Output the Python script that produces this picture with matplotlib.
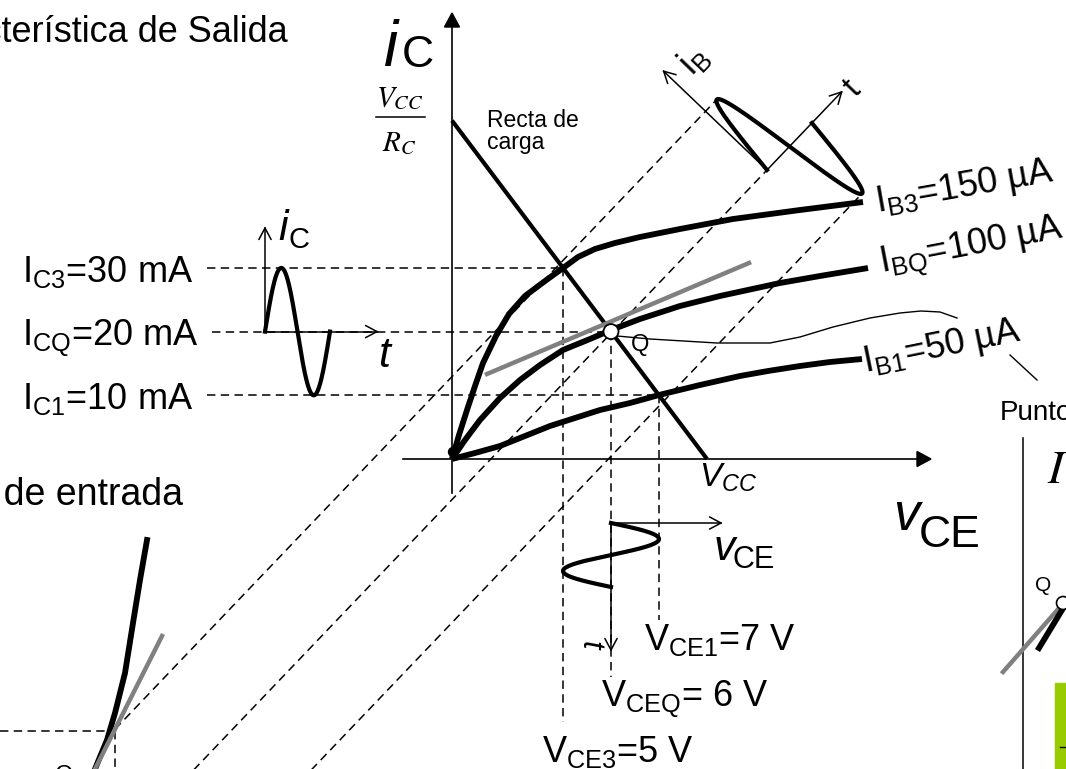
import matplotlib
import numpy as np

matplotlib.use("Agg")

import matplotlib.pyplot as plt
from matplotlib.patches import Circle, Polygon, Rectangle

plt.rcParams["font.family"] = ["Liberation Sans", "DejaVu Sans"]
plt.rcParams["mathtext.fontset"] = "custom"
plt.rcParams["mathtext.rm"] = "Liberation Sans"
plt.rcParams["mathtext.it"] = "Liberation Sans:italic"
plt.rcParams["mathtext.bf"] = "Liberation Sans:bold"

W, H = 1066, 769

# operating point values (output characteristic)
ic_names = ["C3", "CQ", "C1"]
ic_values = [30, 20, 10]            # mA
vce_names = ["CE3", "CEQ", "CE1"]
vce_values = [5, 6, 7]              # V
vce_texts = ["=5 V", "= 6 V", "=7 V"]
ib_names = ["B3", "BQ", "B1"]
ib_values = [150, 100, 50]          # uA
vcc = 8                              # V
rc_ma_per_v = 10                     # VCC/RC slope, mA per V

# sketched base-current curves, canvas pixels (x, y)
ib3_curve = [(452, 459), (459, 435), (467, 410), (475, 386), (483, 363), (496, 336),
             (509, 314), (525, 296), (545, 281), (563, 268), (578, 257), (595, 249),
             (615, 243), (640, 237), (680, 229), (733, 219), (800, 210), (863, 202)]
ibq_curve = [(452, 459), (465, 440), (480, 420), (500, 398), (520, 380), (540, 365),
             (563, 350), (590, 339), (611, 330), (640, 319), (680, 306), (720, 296),
             (780, 283), (820, 276), (868, 268)]
ib1_curve = [(452, 459), (475, 453), (500, 446), (525, 436), (550, 426), (575, 418),
             (600, 410), (630, 403), (659, 395), (700, 385), (740, 376), (768, 371),
             (800, 366), (830, 362), (862, 359)]
tangent_q = [(487, 374), (749, 263)]
callout_q = [(617, 336), (650, 339), (717, 343), (770, 343), (800, 337), (833, 327),
             (870, 318), (900, 313), (921, 311), (940, 312), (957, 318)]

# input characteristic sketch
input_curve = [(147, 540), (140, 580), (133, 623), (125, 673), (115, 713), (107, 740), (95, 769)]
input_tangent = [(162, 636), (95, 769)]
input_q = (115, 731)

# right-hand inset fragments
inset_gray = [(1003, 672), (1060, 607)]
inset_black = [(1039, 648), (1062, 610)]


def ic_y(ic):
    return 459 - 6.37 * np.asarray(ic, dtype=float)


def vce_x(v):
    return 611 + 48 * (np.asarray(v, dtype=float) - 6)


def xy(points):
    arr = np.asarray(points, dtype=float)
    return arr[:, 0], arr[:, 1]


def open_head(ax, tip, direction, size=13, spread=28, lw=1.1):
    d = np.asarray(direction, dtype=float)
    d = d / np.hypot(*d)
    for sign in (1, -1):
        a = np.deg2rad(sign * spread)
        rot = np.array([[np.cos(a), -np.sin(a)], [np.sin(a), np.cos(a)]])
        back = rot @ (-d) * size
        ax.plot([tip[0], tip[0] + back[0]], [tip[1], tip[1] + back[1]], color="black", lw=lw,
                solid_capstyle="round")


def filled_head(ax, tip, direction, length=14, half=7.5):
    d = np.asarray(direction, dtype=float)
    d = d / np.hypot(*d)
    n = np.array([-d[1], d[0]])
    base = np.asarray(tip) - d * length
    ax.add_patch(Polygon([tip, base + n * half, base - n * half], closed=True, color="black", zorder=6))


fig = plt.figure(figsize=(W / 100, H / 100), dpi=100)
ax = fig.add_axes([0, 0, 1, 1])
ax.set_xlim(0, W)
ax.set_ylim(H, 0)
ax.axis("off")

dash = dict(color="black", lw=1.1, dashes=(5.5, 3.5), zorder=1)

# projection lines and rotated base-current waveform
theta = np.deg2rad(46.3)
ut = np.array([np.cos(theta), -np.sin(theta)])
ub = np.array([-np.sin(theta), -np.cos(theta)])
o_rot = np.array([767.0, 170.0])
period = 65.0
ub_px = 1.7  # pixels per uA of base current swing
ib_q = ib_values[1]

s = np.linspace(0, period, 200)
ib_wave = ib_q + (ib_values[0] - ib_q) * np.sin(2 * np.pi * s / period)
wave = o_rot + np.outer(s, ut) + np.outer((ib_wave - ib_q) * ub_px, ub)
ax.plot(wave[:, 0], wave[:, 1], color="black", lw=3.0, zorder=4)

# rotated axes
tip_b = o_rot + 143 * ub
tip_t = o_rot + 108 * ut
ax.plot([o_rot[0], tip_b[0]], [o_rot[1], tip_b[1]], color="black", lw=1.1)
ax.plot([o_rot[0], tip_t[0]], [o_rot[1], tip_t[1]], color="black", lw=1.1)
open_head(ax, tip_b, ub)
open_head(ax, tip_t, ut)
ax.text(694, 60, "i$_{\\mathrm{B}}$", fontsize=26, rotation=46, ha="center", va="center")
ax.text(853, 89, "t", fontsize=24, rotation=46, ha="center", va="center")

for ib, s_end in zip(ib_values, [period / 4, 0.0, 3 * period / 4]):
    base = o_rot + (ib - ib_q) * ub_px * ub
    if ib == ib_values[0]:
        s_start = (input_q[0] - base[0]) / ut[0]
    else:
        s_start = (H + 10 - base[1]) / ut[1]
    p0 = base + s_start * ut
    p1 = base + s_end * ut
    ax.plot([p0[0], p1[0]], [p0[1], p1[1]], **dash)

# horizontal and vertical projection lines
ic_starts = [207, 212, 207]
vce_ends = [722, 677, 620]
for ic, v, x0, y_end in zip(ic_values, vce_values, ic_starts, vce_ends):
    ax.plot([x0, vce_x(v)], [ic_y(ic), ic_y(ic)], **dash)
    ax.plot([vce_x(v), vce_x(v)], [ic_y(ic), y_end], **dash)

# main axes
ax.plot([403, 917], [459, 459], color="black", lw=1.2, zorder=2)
filled_head(ax, (931, 459), (1, 0))
ax.plot([452, 452], [493, 27], color="black", lw=1.2, zorder=2)
filled_head(ax, (452, 13), (0, -1))

# load line from VCC/RC down to VCC
x_axis_v = 6 + (452 - 611) / 48
x_ll = np.array([452, vce_x(vcc)])
y_ll = ic_y([rc_ma_per_v * (vcc - x_axis_v), 0])
ax.plot(x_ll, y_ll, color="black", lw=3.0, zorder=3, solid_capstyle="butt")

for curve in (ib3_curve, ibq_curve, ib1_curve):
    cx, cy = xy(curve)
    ax.plot(cx, cy, color="black", lw=4.2, zorder=3, solid_capstyle="butt", solid_joinstyle="round")
ax.add_patch(Circle((453, 452), 4.5, color="black", zorder=3))

tx, ty = xy(tangent_q)
ax.plot(tx, ty, color="#808080", lw=3.2, zorder=4)
ax.add_patch(Circle((vce_x(6), ic_y(20)), 7.5, facecolor="white", edgecolor="black", lw=1.3, zorder=5))
cx, cy = xy(callout_q)
ax.plot(cx, cy, color="black", lw=1.0, zorder=2)
ax.plot([1010, 1037], [355, 380], color="black", lw=1.0)

# collector current waveform on the left
ax.plot([265, 265], [ic_y(20), 228], color="black", lw=1.1)
open_head(ax, (265, 228), (0, -1))
ax.plot([265, 377], [ic_y(20), ic_y(20)], color="black", lw=1.1)
open_head(ax, (377, ic_y(20)), (1, 0))
t = np.linspace(0, 65, 200)
ic_wave = ic_values[1] + (ic_values[0] - ic_values[1]) * np.sin(2 * np.pi * t / 65)
ax.plot(265 + t, ic_y(ic_wave), color="black", lw=3.0, zorder=4)

# collector-emitter voltage waveform below
ax.plot([611, 611], [523, 650], color="black", lw=1.1)
open_head(ax, (611, 650), (0, 1))
ax.plot([611, 721], [523, 523], color="black", lw=1.1)
open_head(ax, (721, 523), (1, 0))
t = np.linspace(0, 64, 200)
v_wave = vce_values[1] + (vce_values[2] - vce_values[1]) * np.sin(2 * np.pi * t / 64)
ax.plot(vce_x(v_wave), 523 + t, color="black", lw=3.0, zorder=4)
ax.text(590, 645, "t", fontsize=22, style="italic", rotation=-90, ha="center", va="center")

# input characteristic fragment
ax.plot([0, input_q[0]], [input_q[1], input_q[1]], **dash)
ax.plot([input_q[0], input_q[0]], [input_q[1], H + 5], **dash)
cx, cy = xy(input_curve)
ax.plot(cx, cy, color="black", lw=4.2, zorder=3)
tx, ty = xy(input_tangent)
ax.plot(tx, ty, color="#808080", lw=3.2, zorder=4)
ax.text(55, 782, "Q", fontsize=17, va="baseline")

# right-hand inset fragment
ax.plot([1022.5, 1022.5], [438, H + 5], color="black", lw=1.1)
ax.text(1047, 483, "$I$", fontsize=34, math_fontfamily="stix", va="baseline")
gx, gy = xy(inset_gray)
ax.plot(gx, gy, color="#808080", lw=3.2, zorder=3)
bx, by = xy(inset_black)
ax.plot(bx, by, color="black", lw=4.2, zorder=4)
ax.add_patch(Circle((1063, 603), 6.5, facecolor="white", edgecolor="black", lw=1.2, zorder=5))
ax.text(1035, 591, "Q", fontsize=15, va="baseline")
ax.add_patch(Rectangle((1055, 683), 20, 100, color="#99cc00", zorder=2))
ax.plot([1060, 1068], [747, 747], color="black", lw=1.0, zorder=3)

# titles and labels
ax.text(288, 42, "Característica de Salida", fontsize=26, ha="right", va="baseline")
ax.text(183, 505, "Característica de entrada", fontsize=27, ha="right", va="baseline")
ax.text(487, 127, "Recta de", fontsize=16.5, va="baseline")
ax.text(487, 149, "carga", fontsize=16.5, va="baseline")

ax.plot([376, 425], [117, 117], color="black", lw=1.1)
ax.text(400, 106, "$V_{CC}$", fontsize=21, math_fontfamily="stix", ha="center", va="baseline")
ax.text(399, 151, "$R_{C}$", fontsize=21, math_fontfamily="stix", ha="center", va="baseline")

ax.text(384, 66, "i", fontsize=46, style="italic", va="baseline")
ax.text(402, 67, "C", fontsize=32, va="baseline")
ax.text(893, 530, "v", fontsize=38, style="italic", va="baseline")
ax.text(919, 547, "CE", fontsize=32, va="baseline")
ax.text(278, 240, "i", fontsize=31, style="italic", va="baseline")
ax.text(289, 248, "C", fontsize=21, va="baseline")
ax.text(378, 367, "t", fontsize=31, style="italic", va="baseline")
ax.text(714, 560, "v", fontsize=31, style="italic", va="baseline")
ax.text(733, 568, "CE", fontsize=22, va="baseline")
ax.text(699, 487, "$V_{CC}$", fontsize=24, va="baseline")
ax.text(631, 351, "Q", fontsize=17, va="baseline")
ax.text(1000, 420, "Punto", fontsize=20, va="baseline")

for name, ic in zip(ic_names, ic_values):
    ax.text(22, ic_y(ic) + 14, f"$\\mathrm{{I}}_{{\\mathrm{{{name}}}}}$={ic} mA", fontsize=26, va="baseline")

vce_pos = [(542, 762), (601, 707), (644, 650)]
for name, text, (x, y) in zip(vce_names, vce_texts, vce_pos):
    ax.text(x, y, f"$\\mathrm{{V}}_{{\\mathrm{{{name}}}}}${text}", fontsize=26, va="baseline")

ib_pos = [(877, 212, 10.0), (882, 273, 10.9), (865, 372, 11.5)]
for name, ib, (x, y, rot) in zip(ib_names, ib_values, ib_pos):
    ax.text(x, y, f"$\\mathrm{{I}}_{{\\mathrm{{{name}}}}}$={ib} µA", fontsize=26, rotation=rot,
            rotation_mode="anchor", ha="left", va="baseline")

fig.savefig("out.png", dpi=100)
plt.close(fig)
